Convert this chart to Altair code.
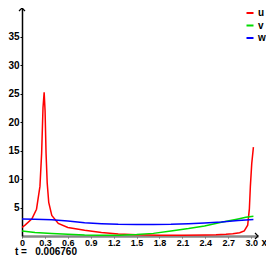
import altair as alt
import pandas as pd

# ---- data ----
x_u = [0, 0.04, 0.13, 0.19, 0.235, 0.257, 0.275, 0.29, 0.302, 0.315, 0.33, 0.35, 0.39,
       0.475, 0.6, 0.82, 1.04, 1.26, 1.5, 1.8, 2.1, 2.4, 2.54, 2.67, 2.76, 2.85, 2.91,
       2.955, 2.977, 2.99, 3.008, 3.03]
u = [1.5, 1.9, 3.0, 4.7, 8.7, 14.5, 22.5, 25.2, 22.0, 14.5, 9.3, 5.9, 3.6,
     2.2, 1.5, 1.0, 0.6, 0.35, 0.2, 0.15, 0.15, 0.17, 0.2, 0.3, 0.4, 0.57, 0.9,
     1.9, 4.75, 8.7, 12.7, 15.6]

x_vw = [0, 0.17, 0.39, 0.6, 0.82, 1.04, 1.26, 1.5, 1.72, 1.95, 2.18, 2.39, 2.61, 2.83, 2.93, 3.03]
v = [0.86, 0.63, 0.46, 0.3, 0.17, 0.12, 0.12, 0.25, 0.46, 0.86, 1.3, 1.77, 2.4, 3.0, 3.3, 3.45]
w = [3.0, 2.95, 2.86, 2.63, 2.34, 2.17, 2.05, 2.0, 2.02, 2.06, 2.17, 2.3, 2.46, 2.7, 2.8, 2.9]

series = ["u", "v", "w"]
colors = ["#ff0000", "#00dd00", "#0000ff"]
x_ticks = [0, 0.3, 0.6, 0.9, 1.2, 1.5, 1.8, 2.1, 2.4, 2.7, 3.0]
y_ticks = [5, 10, 15, 20, 25, 30, 35]
time_label = "t =\u00a0\u00a0\u00a00.006760"

rows = (
    [{"x": a, "val": b, "s": "u"} for a, b in zip(x_u, u)]
    + [{"x": a, "val": b, "s": "v"} for a, b in zip(x_vw, v)]
    + [{"x": a, "val": b, "s": "w"} for a, b in zip(x_vw, w)]
)
df = pd.DataFrame(rows)

W, H = 236, 228
FONT = "Liberation Sans"

xs = alt.Scale(domain=[0, 3.09], nice=False, zero=False)
ys = alt.Scale(domain=[0, 40], nice=False)

lines = alt.Chart(df).mark_line(strokeWidth=1.5, clip=True).encode(
    x=alt.X(
        "x:Q", scale=xs,
        axis=alt.Axis(
            values=x_ticks,
            labelExpr="datum.value == 0 ? '0' : format(datum.value, '.1f')",
            title="x", titleX=239, titleY=6, titleAlign="left", titleBaseline="middle",
            titleAngle=0, titleFont=FONT, titleFontSize=10, titleFontWeight="bold",
            domainColor="#888888", domainWidth=2.5, tickColor="#555555", tickSize=2,
            labelPadding=0, labelFont=FONT, labelFontSize=9, labelFontWeight="bold",
            labelColor="black", labelFlush=False, labelOverlap=False,
        ),
    ),
    y=alt.Y(
        "val:Q", scale=ys,
        axis=alt.Axis(
            values=y_ticks, title=None,
            domainColor="black", domainWidth=1.5, tickColor="black", tickSize=2,
            labelPadding=1, labelFont=FONT, labelFontSize=10, labelFontWeight="bold",
            labelColor="black", labelFlush=False, labelOverlap=False,
        ),
    ),
    color=alt.Color(
        "s:N", scale=alt.Scale(domain=series, range=colors),
        legend=alt.Legend(
            title=None, orient="none", legendX=223, legendY=0, padding=0,
            symbolType="stroke", symbolSize=49, symbolStrokeWidth=2,
            labelOffset=3, labelFont=FONT, labelFontSize=10, labelFontWeight="bold",
            labelColor="black", rowPadding=2.5,
        ),
    ),
)

one = alt.Data(values=[{"k": 0}])
yarrow = alt.Chart(one).mark_point(
    shape="M-1,1L0,0L1,1", size=36, filled=False, color="black", strokeWidth=1.2, opacity=1
).encode(x=alt.value(0), y=alt.value(0))
xarrow = alt.Chart(one).mark_point(
    shape="M-1,-1L0,0L-1,1", size=36, filled=False, color="black", strokeWidth=1.2, opacity=1
).encode(x=alt.value(W), y=alt.value(H))

tlabel = alt.Chart(alt.Data(values=[{"t": time_label}])).mark_text(
    align="left", baseline="middle", font=FONT, fontSize=10, fontWeight="bold", color="black"
).encode(x=alt.value(-7), y=alt.value(244), text="t:N")

chart = alt.layer(lines, yarrow, xarrow, tlabel).properties(
    width=W, height=H,
    autosize=alt.AutoSizeParams(type="none"),
    padding={"left": 14, "top": 0, "right": 8, "bottom": 21},
).configure_view(stroke=None).configure_axis(grid=False)

chart.save("out.html", embed_options={"renderer": "svg", "actions": False})
